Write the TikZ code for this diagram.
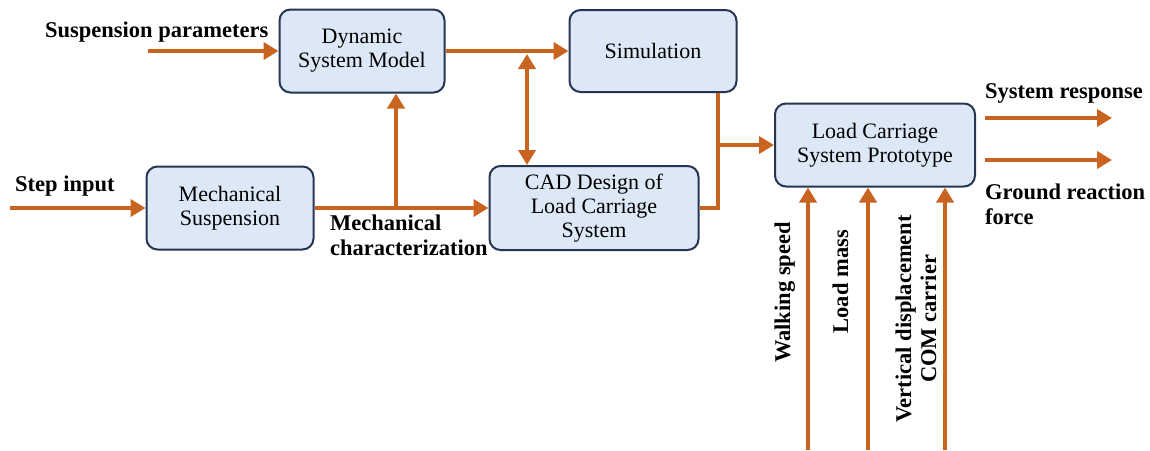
\documentclass[tikz,border=0pt]{standalone}
\usepackage{fontspec}
\setmainfont{Liberation Serif}
\usetikzlibrary{arrows.meta, positioning}

\definecolor{boxfill}{RGB}{221,232,246}
\definecolor{boxline}{RGB}{38,54,82}
\definecolor{flow}{RGB}{201,99,32}

\tikzset{
  block/.style={draw=boxline, fill=boxfill, line width=2pt, rounded corners=11pt,
    align=center, font=\fontsize{22}{24}\selectfont},
  pipe/.style={draw=flow, line width=4.5pt},
  flowline/.style={pipe, -{Triangle[length=15pt,width=17pt]}},
  lbl/.style={font=\bfseries\fontsize{22.5}{25}\selectfont, align=left, inner sep=0pt}
}

\begin{document}
\begin{tikzpicture}[x=1pt, y=-1pt]
\useasboundingbox (0,0) rectangle (1150,450);
% Blocks
\node[block, minimum width=165pt, minimum height=83pt] (dynamic1) at (362,51) {Dynamic\\System Model};
\node[block, minimum width=167pt, minimum height=82pt] (sim1) at (653,51) {Simulation};
\node[block, minimum width=167pt, minimum height=83pt] (mech1) at (230,208) {Mechanical\\Suspension};
\node[block, minimum width=209pt, minimum height=84pt] (cad1) at (594,208) {CAD Design of\\Load Carriage\\System};
\node[block, minimum width=200pt, minimum height=83pt] (lc1) at (875,145) {Load Carriage\\System Prototype};
% Branch points
\coordinate (start1) at (148,51);
\coordinate (start2) at (10,208);
\coordinate (branch1) at (396,208);
\coordinate (branch2) at (527,51);
\coordinate (branch3) at (718,145);
% Inputs on the left
\draw[flowline] (start1) -- (dynamic1.west);
\node[lbl, anchor=base west] (susp1) at (45,37) {Suspension parameters};
\draw[flowline] (start2) -- (mech1.west);
\node[lbl, anchor=base west] (step1) at (15,191) {Step input};
% Mechanical characterization to CAD and model
\draw[flowline] (mech1.east) -- (cad1.west);
\draw[flowline] (branch1) -- (branch1 |- dynamic1.south);
\node[lbl, anchor=base west] (char1) at (330,255) {Mechanical\\characterization};
% Model to simulation, linked with CAD
\draw[flowline] (dynamic1.east) -- (sim1.west);
\draw[pipe, {Triangle[length=15pt,width=17pt]}-{Triangle[length=15pt,width=17pt]}, shorten <=3pt] (branch2) -- (branch2 |- cad1.north);
% Simulation and CAD join into prototype
\draw[pipe] (sim1.south -| branch3) -- (branch3 |- cad1.east) -- (cad1.east);
\draw[flowline] (branch3) -- (lc1.west);
% Outputs
\coordinate (out1) at (985,118);
\coordinate (out2) at (985,160);
\draw[flowline] (out1) -- +(127,0);
\draw[flowline] (out2) -- +(127,0);
\node[lbl, anchor=base west] (resp1) at (985,98) {System response};
\node[lbl, anchor=base west] (grf1) at (985,224) {Ground reaction\\force};
% Measured inputs from below
\foreach \xi/\k in {808/1, 868/2, 945/3}
  \coordinate (in\k) at (\xi,450);
\foreach \k in {1,2,3}
  \draw[flowline] (in\k) -- (in\k |- lc1.south);
\node[lbl, rotate=90, anchor=base east] (speed1) at (790,222) {Walking speed};
\node[lbl, rotate=90, anchor=base east] (mass1) at (848,230) {Load mass};
\node[lbl, rotate=90, anchor=east, align=center] (com1) at (916,215) {Vertical displacement\\COM carrier};
\end{tikzpicture}
\end{document}
